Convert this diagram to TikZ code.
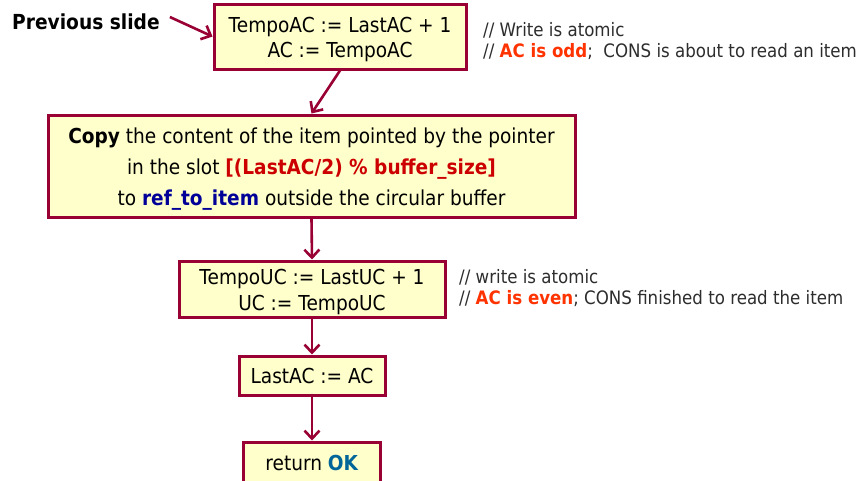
\documentclass[tikz,border=0pt]{standalone}
\usepackage{fontspec}
\setmainfont[FakeStretch=0.9]{DejaVu Sans}
\usetikzlibrary{arrows.meta}
\definecolor{frame}{RGB}{153,0,51}
\definecolor{boxfill}{RGB}{255,255,204}
\definecolor{slotred}{RGB}{204,0,0}
\definecolor{refblue}{RGB}{0,0,153}
\definecolor{okblue}{RGB}{0,102,153}
\definecolor{noteorange}{RGB}{255,51,0}
\definecolor{notegray}{RGB}{45,45,45}
\tikzset{
  stepbox/.style={draw=frame, fill=boxfill, line width=3pt, rectangle,
    inner sep=0pt, align=center, text=black},
  boxtext/.style={inner sep=0pt, align=center, text=black},
  flow/.style={draw=frame, line width=2.6pt,
    -{Straight Barb[length=8pt,width=15pt,line width=2.6pt]}},
  note/.style={anchor=base west, inner sep=0pt, text=notegray,
    font=\fontsize{18.5}{22}\selectfont},
}
\begin{document}
\begin{tikzpicture}[x=1pt,y=-1pt]
  \clip (0,0) rectangle (862,480);
  \fill[white] (0,0) rectangle (862,480);

  % label of the entry point
  \node[anchor=west, inner sep=0pt, font=\bfseries\fontsize{20.7}{24}\selectfont]
    (prev) at (12,22) {Previous slide};

  % flow steps: frames
  \node[stepbox, minimum width=252pt, minimum height=65pt] (b1) at (340,36.5) {};
  \node[stepbox, minimum width=527pt, minimum height=102pt] (b2) at (311.5,166) {};
  \node[stepbox, minimum width=266pt, minimum height=56pt] (b3) at (312,289) {};
  \node[stepbox, minimum width=146pt, minimum height=39pt,
        font=\fontsize{20.6}{22}\selectfont]
    (b4) at (312,375.5) {LastAC := AC};
  \node[stepbox, minimum width=137pt, minimum height=41pt,
        font=\fontsize{20.6}{22}\selectfont]
    (b5) at (312,462.5) {return \textcolor{okblue}{\textbf{OK}}};

  % flow steps: multi-line contents
  \node[boxtext, font=\fontsize{20.6}{25}\selectfont]
    (b1t) at ([yshift=-2.7pt]b1.center) {TempoAC := LastAC + 1\\AC := TempoAC};
  \node[boxtext, font=\fontsize{20.6}{31}\selectfont]
    (b2t) at ([yshift=-3.2pt]b2.center)
    {\textbf{Copy} the content of the item pointed by the pointer\\
     in the slot \textcolor{slotred}{\textbf{[(LastAC/2) \% buffer\_size]}}\\
     to \textcolor{refblue}{\textbf{ref\_to\_item}} outside the circular buffer};
  \node[boxtext, font=\fontsize{20.6}{26}\selectfont]
    (b3t) at ([yshift=-2.6pt]b3.center) {TempoUC := LastUC + 1\\UC := TempoUC};

  % side comments
  \node[note] (c1a) at (483,36) {// Write is atomic};
  \node[note] (c1b) at (483,57)
    {// \textcolor{noteorange}{\textbf{AC is odd}};\ \ CONS is about to read an item};
  \node[note] (c2a) at (459,283) {// write is atomic};
  \node[note] (c2b) at (459,304)
    {// \textcolor{noteorange}{\textbf{AC is even}}; CONS finished to read the item};

  % connectors
  \draw[flow] ([xshift=10pt,yshift=5pt]prev.east) -- (b1.west);
  \draw[flow] (b1.south) -- (b2.north);
  \draw[flow] (b2.south) -- (b3.north);
  \draw[flow] (b3.south) -- (b4.north);
  \draw[flow] (b4.south) -- (b5.north);
\end{tikzpicture}
\end{document}
